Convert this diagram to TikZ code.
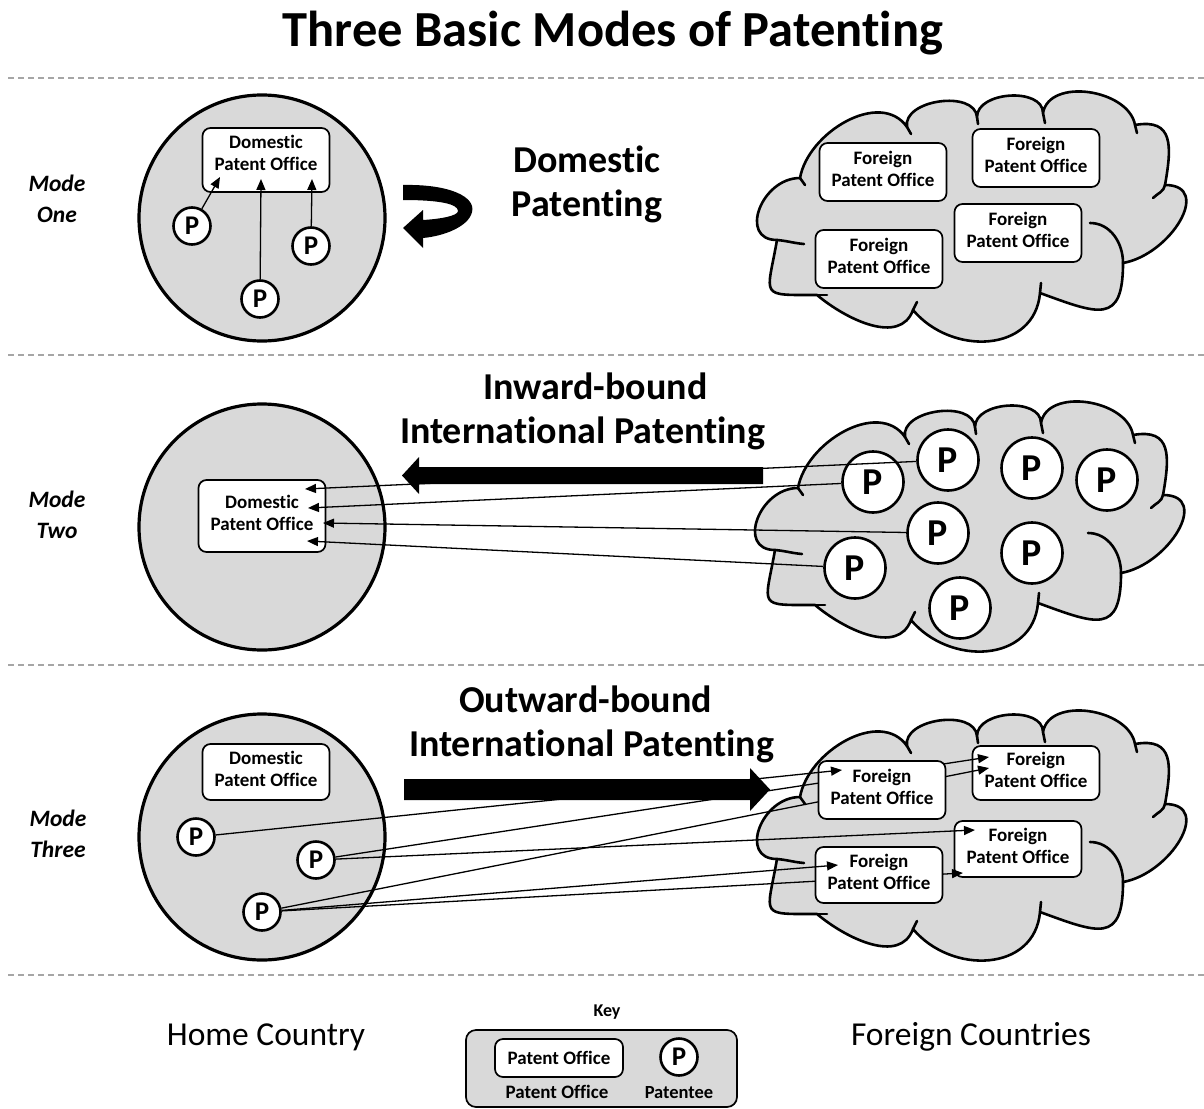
\documentclass[tikz,border=0pt]{standalone}
\usepackage{fontspec}
\setmainfont{Carlito}[Ligatures=NoCommon]
\usetikzlibrary{arrows.meta}
\definecolor{fillgray}{HTML}{D9D9D9}
\definecolor{dashgray}{HTML}{A6A6A6}
\newcommand\boxtext[2][1pt]{\raisebox{#1}[\height][\depth]{\begin{tabular}{@{}c@{}}#2\end{tabular}}}
\tikzset{
  cloudline/.style={line width=2.6pt, line join=round, line cap=round},
  cloudshape/.pic={
    \draw[cloudline, fill=fillgray]
      (43,-85) to[out=80,in=125] (150,-34)
      to[out=100,in=95] (220,-24)
      to[out=90,in=90] (286,-20)
      to[out=80,in=100] (378,-32)
      to[out=10,in=80,looseness=1.5] (408,-92)
      to[out=0,in=10,looseness=1.4] (366,-170)
      to[out=-90,in=-20,looseness=1.8] (283,-200)
      to[out=-95,in=-50,looseness=1.2] (156,-217)
      to[out=-110,in=-40] (60,-202)
      to[out=180,in=-100,looseness=2.2] (20,-147)
      to[out=180,in=180,looseness=1.5] (43,-85) -- cycle;
    \draw[cloudline] (43,-85) -- (48,-92);
    \draw[cloudline] (150,-34) -- (154,-41);
    \draw[cloudline] (220,-24) -- (221,-31);
    \draw[cloudline] (286,-20) -- (288,-30);
    \draw[cloudline] (378,-32) -- (380,-40);
    \draw[cloudline] (408,-92) to[out=-100,in=45] (396,-105);
    \draw[cloudline] (333,-130) to[out=0,in=90] (366,-170);
    \draw[cloudline] (283,-200) -- (284,-190);
    \draw[cloudline] (156,-217) -- (160,-209);
    \draw[cloudline] (60,-202) -- (70,-202);
    \draw[cloudline] (20,-147) to[out=-5,in=175] (47,-151);
  }
}
\begin{document}
\begin{tikzpicture}[x=1pt,y=1pt,
  office/.style={draw, line width=1.7pt, rounded corners=8pt, fill=white,
    font=\bfseries\fontsize{19}{22}\selectfont, minimum width=127pt, minimum height=58pt, inner sep=0pt},
  pat/.style={circle, draw, line width=2.6pt, fill=white, minimum size=37pt, inner sep=0pt,
    font=\bfseries\fontsize{27}{27}\selectfont},
  bigpat/.style={pat, minimum size=61pt, font=\bfseries\fontsize{38}{38}\selectfont},
  country/.style={circle, draw, line width=3.2pt, fill=fillgray, minimum size=246pt, inner sep=0pt},
  conn/.style={line width=1.3pt, -{Triangle[length=11pt,width=9pt]}},
  sep/.style={dashgray, line width=1.3pt, dash pattern=on 6pt off 4pt},
  heading/.style={font=\bfseries\fontsize{38}{44}\selectfont, align=center},
  modelabel/.style={font=\bfseries\itshape\fontsize{23.5}{31}\selectfont, align=center},
  plain/.style={font=\fontsize{33.5}{38}\selectfont}
]
\useasboundingbox (0,0) rectangle (1204,-1108);
\fill[white] (0,0) rectangle (1204,-1108);

% title and separators
\node[font=\bfseries\fontsize{50.5}{60}\selectfont, anchor=base] (title) at (613,-47) {Three Basic Modes of Patenting};
\draw[sep] (8,-78) -- (1204,-78);
\draw[sep] (8,-355) -- (1204,-355);
\draw[sep] (8,-665) -- (1204,-665);
\draw[sep] (8,-975) -- (1204,-975);

% ---------------- Mode one
\node[modelabel] (m1) at (57,-199) {Mode\\One};
\node[country] (c1) at (262,-218) {};
\node[office, minimum height=64pt] (dom1) at (266,-160) {\boxtext[4.5pt]{Domestic\\Patent Office}};
\node[pat] (p11) at (192,-226) {P};
\node[pat] (p12) at (311,-246) {P};
\node[pat] (p13) at (260,-299) {P};
\coordinate (t11) at (220,-177);
\coordinate (t12) at (312,-179);
\coordinate (t13) at (261,-179);
\draw[conn] (p11) -- (t11);
\draw[conn] (p12) -- (t12);
\draw[conn] (p13) -- (t13);
\fill (403,-185) .. controls (450,-184) and (476,-197) .. (472,-212)
  .. controls (469,-226) and (445,-236) .. (423,-238) -- (423,-248) -- (403,-228)
  -- (423,-210) -- (423,-220) .. controls (440,-219) and (458,-216) .. (458,-211)
  .. controls (458,-204) and (440,-200) .. (403,-200) -- cycle;
\node[heading] (h1) at (587,-184) {Domestic\\Patenting};
\pic at (757,-93) {cloudshape};
\node[office] (fo11) at (883,-172) {\boxtext{Foreign\\Patent Office}};
\node[office] (fo12) at (1036,-158) {\boxtext{Foreign\\Patent Office}};
\node[office] (fo13) at (1018,-233) {\boxtext{Foreign\\Patent Office}};
\node[office] (fo14) at (879,-259) {\boxtext{Foreign\\Patent Office}};

% ---------------- Mode two
\node[modelabel] (m2) at (57,-515) {Mode\\Two};
\node[country] (c2) at (262,-527) {};
\node[office, minimum height=72pt] (dom2) at (262,-516) {\boxtext{Domestic\\Patent Office}};
\pic at (755,-403) {cloudshape};
\node[bigpat] (q1) at (948,-460) {P};
\node[bigpat] (q2) at (1032,-468) {P};
\node[bigpat] (q3) at (1107,-480) {P};
\node[bigpat] (q4) at (873,-482) {P};
\node[bigpat] (q5) at (938,-533) {P};
\node[bigpat] (q6) at (1032,-553) {P};
\node[bigpat] (q7) at (855,-568) {P};
\node[bigpat] (q8) at (960,-608) {P};
\coordinate (t21) at (305,-489);
\coordinate (t22) at (308,-508);
\coordinate (t23) at (323,-523);
\coordinate (t24) at (307,-541);
\draw[conn] (q1) -- (t21);
\draw[conn] (q4) -- (t22);
\draw[conn] (q5) -- (t23);
\draw[conn] (q7) -- (t24);
\fill (763,-467) -- (419,-467) -- (419,-457) -- (402,-475.5) -- (419,-494) -- (419,-484) -- (763,-484) -- cycle;
\node[heading] (h2) at (582.5,-411) {\hspace*{26pt}Inward-bound\\International Patenting};

% ---------------- Mode three
\node[modelabel] (m3) at (58,-834) {Mode\\Three};
\node[country] (c3) at (262,-837) {};
\node[office, minimum height=56pt] (dom3) at (266,-772) {\boxtext{Domestic\\Patent Office}};
\node[pat] (r1) at (196,-837) {P};
\node[pat] (r2) at (316,-860) {P};
\node[pat] (r3) at (262,-912) {P};
\pic at (757,-712) {cloudshape};
\node[office, minimum height=54pt] (fb) at (1036,-773) {\boxtext{Foreign\\Patent Office}};
\node[office, minimum height=56pt] (fc) at (1018,-849) {\boxtext{Foreign\\Patent Office}};
\coordinate (tA) at (842,-770);
\coordinate (tB1) at (989,-757);
\coordinate (tB2) at (989,-768);
\coordinate (tC1) at (975,-830);
\coordinate (tD) at (838,-865);
\coordinate (tC2) at (963,-873);
\draw[conn] (r2) -- (tB1);
\draw[conn] (r3) -- (tB2);
\draw[conn] (r3) -- (tC2);
\node[office] (fa) at (882,-790) {\boxtext{Foreign\\Patent Office}};
\node[office, minimum height=56pt] (fd) at (879,-875) {\boxtext{Foreign\\Patent Office}};
\draw[conn] (r1) -- (tA);
\draw[conn] (r2) -- (tC1);
\draw[conn] (r3) -- (tD);
\fill (404,-779) -- (750,-779) -- (750,-768) -- (770,-789.5) -- (750,-811) -- (750,-800) -- (404,-800) -- cycle;
\node[heading] (h3) at (591.5,-724) {Outward-bound\hspace*{12pt}\\International Patenting};

% ---------------- bottom / key
\node[plain] (home) at (266,-1037) {Home Country};
\node[plain] (foreign) at (971,-1037) {Foreign Countries};
\node[font=\bfseries\fontsize{18}{20}\selectfont] (keyt) at (607,-1012) {Key};
\node[draw, line width=1.7pt, rounded corners=10pt, fill=fillgray, minimum width=271pt, minimum height=77pt] (keybox) at (601.5,-1068.5) {};
\node[office, minimum height=38pt, minimum width=128pt] (keyoff) at (559,-1058) {Patent Office};
\node[pat] (keyp) at (679,-1057) {P};
\node[font=\bfseries\fontsize{19}{20}\selectfont] (keyl1) at (557,-1092) {Patent Office};
\node[font=\bfseries\fontsize{18.5}{20}\selectfont] (keyl2) at (679,-1093) {Patentee};
\end{tikzpicture}
\end{document}
